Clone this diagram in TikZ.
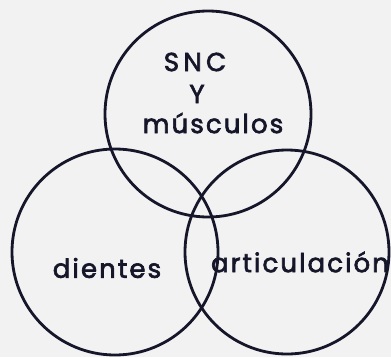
\documentclass[tikz,border=0pt]{standalone}
\usepackage{fontspec}
\newfontfamily\handfont[LetterSpace=8, FakeBold=2.5]{Poppins}
\definecolor{ink}{RGB}{22,22,42}
\definecolor{paper}{RGB}{242,242,242}
\tikzset{
  venn/.style={circle, draw=ink, line width=2.8pt, inner sep=0pt},
  lbl/.style={text=ink, font=\handfont\fontsize{26}{28}\selectfont, inner sep=0pt, align=center}
}
\begin{document}
\begin{tikzpicture}[x=1pt,y=-1pt]
\fill[paper] (0,0) rectangle (391,357);
\useasboundingbox (0,0) rectangle (391,357);
\node[venn, minimum size=206pt] (top) at (208,114) {};
\node[venn, minimum size=206pt] (left) at (115,252) {};
\node[venn, minimum size=204pt] (right) at (287,252) {};
\node[lbl] (snc) at (195,62) {S\,N\,C};
\node[lbl] (y) at (197,94) {Y};
\node[lbl] (musc) at (213,123) {músculos};
\node[lbl] (dient) at (107,268) {dientes};
\node[lbl] (artic) at (300,262) {articulación};
\end{tikzpicture}
\end{document}
